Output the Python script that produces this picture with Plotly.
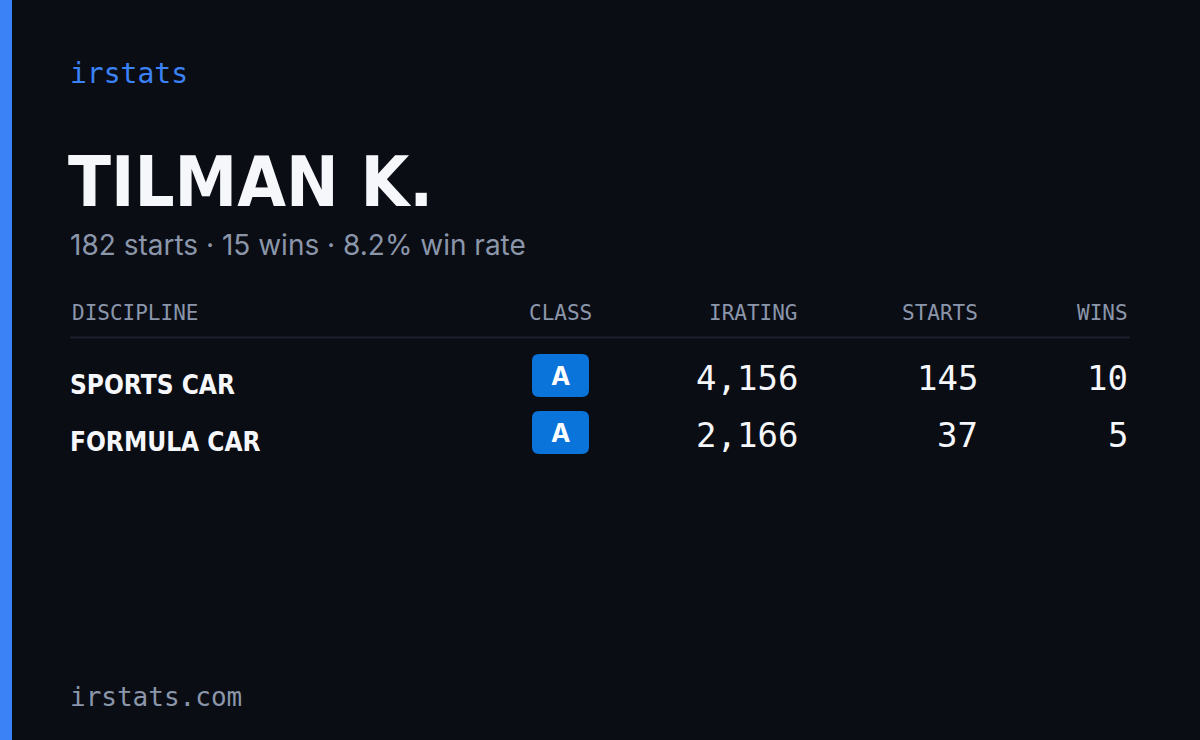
import plotly.graph_objects as go

brand = "irstats"
name = "TILMAN K."
subtitle = "182 starts · 15 wins · 8.2% win rate"
footer = "irstats.com"
headers = ["DISCIPLINE", "CLASS", "IRATING", "STARTS", "WINS"]
disciplines = ["SPORTS CAR", "FORMULA CAR"]
classes = ["A", "A"]
iratings = [4156, 2166]
starts = [145, 37]
wins = [10, 5]

BG = "#0a0d14"
MUTED = "#8b96ab"
BLUE = "#3b82f6"
MONO = "DejaVu Sans Mono"
COND = "DejaVu Sans Condensed"

fig = go.Figure()
fig.add_trace(go.Scatter(x=[0, 1200], y=[0, 740], mode="markers", marker=dict(opacity=0), hoverinfo="skip"))

ann = []
def t(x, y, s, size, color, family, anchor="left"):
    ann.append(dict(x=x, y=y, text=s, showarrow=False, xanchor=anchor, yanchor="middle",
                    font=dict(size=size, color=color, family=family)))

t(66, 182, "<b>" + name + "</b>", 70, "#f5f7fb", COND)
t(68, 73, brand, 28, BLUE, MONO)
t(68, 245, subtitle, 28, MUTED, "Inter")

col_x = [70, 560, 800, 980, 1130]
col_anchor = ["left", "center", "right", "right", "right"]
for i, h in enumerate(headers):
    t(col_x[i], 313, h, 21, MUTED, MONO, col_anchor[i])

shapes = [
    dict(type="rect", x0=0, x1=12, y0=0, y1=740, fillcolor=BLUE, line_width=0, layer="below"),
    dict(type="line", x0=70, x1=1130, y0=337.5, y1=337.5, line=dict(color="#1c2130", width=2)),
]
row_y = [380, 437]
for i in range(len(disciplines)):
    y = row_y[i]
    t(68, y + 5, "<b>" + disciplines[i] + "</b>", 26, "#f5f7fb", COND)
    x0, x1, y0, y1, r = 532, 589, y - 26, y + 17, 7
    shapes.append(dict(type="path", fillcolor="#0b74da", line_width=0,
        path=f"M{x0+r},{y0} L{x1-r},{y0} Q{x1},{y0} {x1},{y0+r} L{x1},{y1-r} Q{x1},{y1} {x1-r},{y1} "
             f"L{x0+r},{y1} Q{x0},{y1} {x0},{y1-r} L{x0},{y0+r} Q{x0},{y0} {x0+r},{y0} Z"))
    t(560.5, y - 5, "<b>" + classes[i] + "</b>", 26, "white", "Inter", "center")
    t(800, y - 2, f"{iratings[i]:,}", 34, "#f5f7fb", MONO, "right")
    t(980, y - 2, str(starts[i]), 34, "#f5f7fb", MONO, "right")
    t(1130, y - 2, str(wins[i]), 34, "#f5f7fb", MONO, "right")

t(68, 697, footer, 26, MUTED, MONO)

fig.update_layout(width=1200, height=740, margin=dict(l=0, r=0, t=0, b=0),
                  paper_bgcolor=BG, plot_bgcolor=BG, showlegend=False,
                  xaxis=dict(range=[0, 1200], visible=False, fixedrange=True),
                  yaxis=dict(range=[740, 0], visible=False, fixedrange=True),
                  annotations=ann, shapes=shapes)
fig.write_html("out.html", config=dict(displayModeBar=False))
with open("out.html", encoding="utf-8") as f:
    html = f.read()
html = html.replace("<body>", '<body style="margin:0;background:#0a0d14">', 1)
with open("out.html", "w", encoding="utf-8") as f:
    f.write(html)
